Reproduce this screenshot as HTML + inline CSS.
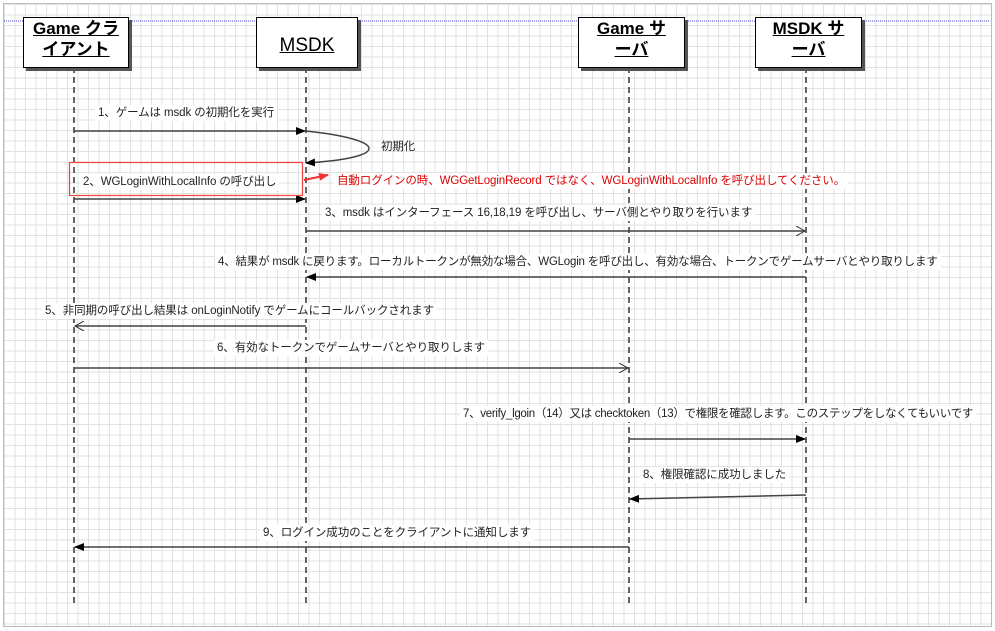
<!DOCTYPE html>
<html><head><meta charset="utf-8"><style>
html,body{margin:0;padding:0}
body{width:995px;height:631px;position:relative;overflow:hidden;background:#fff;
font-family:"Liberation Sans","Noto Sans CJK JP",sans-serif;}
.grid{position:absolute;left:3px;top:3px;width:987px;height:622px;border:1px solid #bbb;
background-image:linear-gradient(#e2e2e2 1px,transparent 1px),linear-gradient(90deg,#e2e2e2 1px,transparent 1px);
background-size:10.5px 10.5px;background-color:#fff}
.lbl{position:absolute;background:#fff;font-size:11.5px;color:#222;white-space:nowrap;line-height:16px;padding:0 3px;letter-spacing:-0.1px}
.box{position:absolute;background:#fff;border:1px solid #000;box-shadow:3px 3px 0 #555;text-align:center;
font-weight:bold;font-size:17px;line-height:21px;}
.box span{text-decoration:underline}
</style></head><body>
<div class="grid"></div>
<svg width="995" height="631" style="position:absolute;left:0;top:0">
<defs>
<marker id="f" markerWidth="10" markerHeight="8" refX="9" refY="4" orient="auto" markerUnits="userSpaceOnUse"><path d="M0,0L10,4L0,8z" fill="#000"/></marker>
<marker id="o" markerWidth="10" markerHeight="10" refX="9" refY="5" orient="auto" markerUnits="userSpaceOnUse"><path d="M0,0L9,5L0,10" fill="none" stroke="#333"/></marker>
<marker id="r" markerWidth="10" markerHeight="8" refX="9" refY="4" orient="auto" markerUnits="userSpaceOnUse"><path d="M0,0L10,4L0,8z" fill="#e33"/></marker>
</defs>
<line x1="4" y1="21" x2="990" y2="21" stroke="#44c" stroke-dasharray="1,1"/>
<g stroke="#333" stroke-width="1.5" stroke-dasharray="6,4">
<line x1="74" y1="67" x2="74" y2="605"/><line x1="306" y1="67" x2="306" y2="605"/>
<line x1="629" y1="67" x2="629" y2="605"/><line x1="806" y1="67" x2="806" y2="605"/>
</g>
<g stroke="#444" stroke-width="1.5" fill="none">
<line x1="74" y1="131" x2="305" y2="131" marker-end="url(#f)"/>
<path d="M306,131 C390,140 390,158 306,163" marker-end="url(#f)"/>
<line x1="74" y1="199" x2="305" y2="199" marker-end="url(#f)"/>
<line x1="306" y1="231" x2="805" y2="231" marker-end="url(#o)"/>
<line x1="806" y1="277" x2="307" y2="277" marker-end="url(#f)"/>
<line x1="306" y1="326" x2="75" y2="326" marker-end="url(#o)"/>
<line x1="74" y1="368" x2="628" y2="368" marker-end="url(#o)"/>
<line x1="629" y1="439" x2="805" y2="439" marker-end="url(#f)"/>
<line x1="806" y1="495" x2="630" y2="499" marker-end="url(#f)"/>
<line x1="629" y1="547" x2="75" y2="547" marker-end="url(#f)"/>
</g>
<line x1="304" y1="180" x2="328" y2="175" stroke="#e33" stroke-width="2" marker-end="url(#r)"/>
<rect x="69.5" y="162.5" width="233" height="33" fill="none" stroke="#e44" stroke-width="1.2"/>
</svg>
<div class="box" style="left:23px;top:17px;width:104px;height:49px"><span>Game クラ<br>イアント</span></div>
<div class="box" style="left:256px;top:17px;width:100px;height:49px;line-height:55px;font-weight:normal;font-size:19px"><span>MSDK</span></div>
<div class="box" style="left:578px;top:17px;width:105px;height:49px"><span>Game サ<br>ーバ</span></div>
<div class="box" style="left:755px;top:17px;width:105px;height:49px"><span>MSDK サ<br>ーバ</span></div>
<div class="lbl" style="left:95px;top:105px">1、ゲームは msdk の初期化を実行</div>
<div class="lbl" style="left:378px;top:139px;background:none">初期化</div>
<div class="lbl" style="left:80px;top:174px">2、WGLoginWithLocalInfo の呼び出し</div>
<div class="lbl" style="left:334px;top:173px;color:#d00;letter-spacing:-0.1px">自動ログインの時、WGGetLoginRecord ではなく、WGLoginWithLocalInfo を呼び出してください。</div>
<div class="lbl" style="left:322px;top:205px">3、msdk はインターフェース 16,18,19 を呼び出し、サーバ側とやり取りを行います</div>
<div class="lbl" style="left:215px;top:254px;letter-spacing:-0.2px">4、結果が msdk に戻ります。ローカルトークンが無効な場合、WGLogin を呼び出し、有効な場合、トークンでゲームサーバとやり取りします</div>
<div class="lbl" style="left:42px;top:303px">5、非同期の呼び出し結果は onLoginNotify でゲームにコールバックされます</div>
<div class="lbl" style="left:214px;top:340px">6、有効なトークンでゲームサーバとやり取りします</div>
<div class="lbl" style="left:460px;top:406px;letter-spacing:-0.3px">7、verify_lgoin（14）又は checktoken（13）で権限を確認します。このステップをしなくてもいいです</div>
<div class="lbl" style="left:640px;top:467px">8、権限確認に成功しました</div>
<div class="lbl" style="left:260px;top:525px">9、ログイン成功のことをクライアントに通知します</div>
</body></html>
